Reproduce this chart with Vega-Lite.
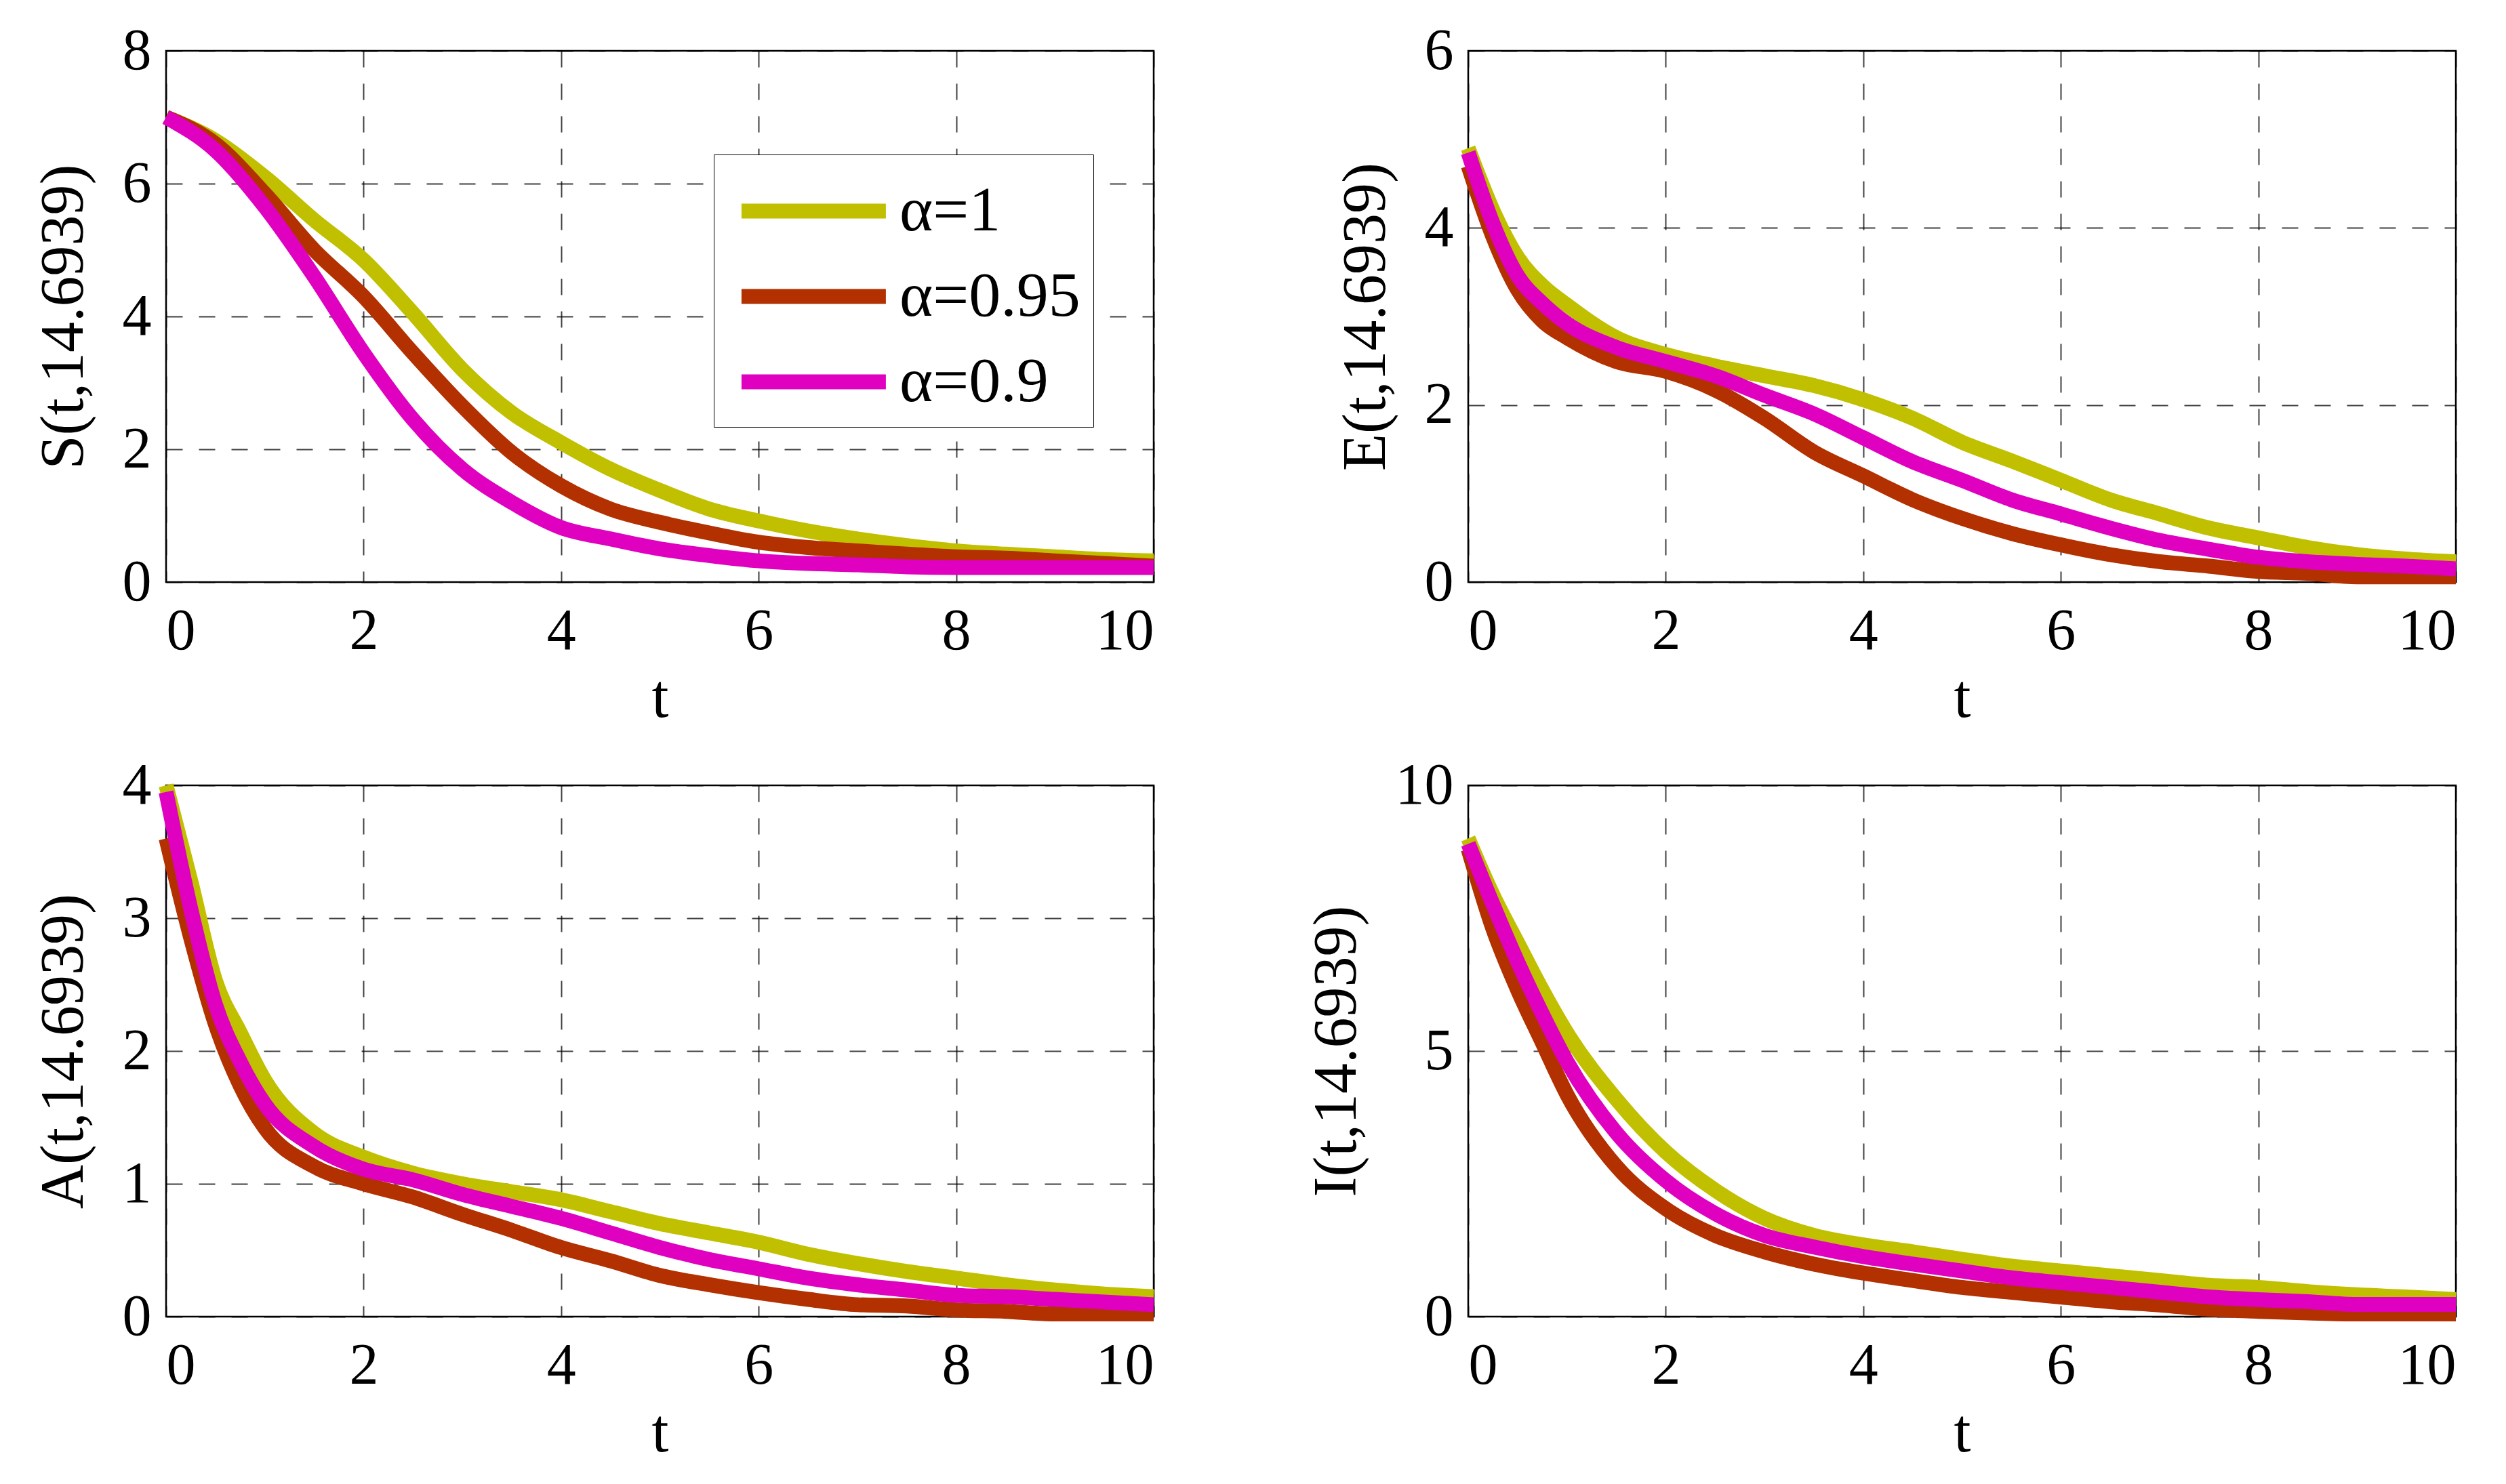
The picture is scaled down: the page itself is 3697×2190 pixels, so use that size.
{
  "$schema": "https://vega.github.io/schema/vega-lite/v6.json",
  "background": "white",
  "padding": {"left": 47, "top": 30, "right": 40, "bottom": 40},
  "config": {
    "font": "Liberation Serif",
    "view": {"stroke": "black", "strokeWidth": 2.5},
    "axis": {
      "labelFont": "Liberation Serif", "labelFontSize": 86, "labelColor": "black", "labelPadding": 22,
      "titleFont": "Liberation Serif", "titleFontSize": 90, "titleFontWeight": "normal", "titleColor": "black",
      "domain": false, "ticks": false,
      "grid": true, "gridColor": "black", "gridDash": [24, 24], "gridWidth": 2, "gridOpacity": 0.75
    },
    "axisX": {"labelPadding": 30, "titlePadding": 12},
    "axisY": {"titlePadding": 40},
    "line": {"strokeWidth": 22, "interpolate": "monotone"}
  },
  "datasets": {
    "curves": [
      {"p":"S","s":"α=1","t":0,"v":7.0},{"p":"S","s":"α=1","t":0.5,"v":6.65},{"p":"S","s":"α=1","t":1,"v":6.1},{"p":"S","s":"α=1","t":1.5,"v":5.45},
      {"p":"S","s":"α=1","t":2,"v":4.85},{"p":"S","s":"α=1","t":2.5,"v":4.05},{"p":"S","s":"α=1","t":3,"v":3.2},{"p":"S","s":"α=1","t":3.5,"v":2.55},
      {"p":"S","s":"α=1","t":4,"v":2.1},{"p":"S","s":"α=1","t":4.5,"v":1.7},{"p":"S","s":"α=1","t":5,"v":1.38},{"p":"S","s":"α=1","t":5.5,"v":1.1},
      {"p":"S","s":"α=1","t":6,"v":0.92},{"p":"S","s":"α=1","t":6.5,"v":0.77},{"p":"S","s":"α=1","t":7,"v":0.65},{"p":"S","s":"α=1","t":7.5,"v":0.55},
      {"p":"S","s":"α=1","t":8,"v":0.47},{"p":"S","s":"α=1","t":8.5,"v":0.42},{"p":"S","s":"α=1","t":9,"v":0.38},{"p":"S","s":"α=1","t":9.5,"v":0.34},
      {"p":"S","s":"α=1","t":10,"v":0.32},
      {"p":"S","s":"α=0.95","t":0,"v":7.0},{"p":"S","s":"α=0.95","t":0.5,"v":6.6},{"p":"S","s":"α=0.95","t":1,"v":5.85},{"p":"S","s":"α=0.95","t":1.5,"v":5.0},
      {"p":"S","s":"α=0.95","t":2,"v":4.3},{"p":"S","s":"α=0.95","t":2.5,"v":3.45},{"p":"S","s":"α=0.95","t":3,"v":2.65},{"p":"S","s":"α=0.95","t":3.5,"v":1.95},
      {"p":"S","s":"α=0.95","t":4,"v":1.45},{"p":"S","s":"α=0.95","t":4.5,"v":1.1},{"p":"S","s":"α=0.95","t":5,"v":0.9},{"p":"S","s":"α=0.95","t":5.5,"v":0.74},
      {"p":"S","s":"α=0.95","t":6,"v":0.6},{"p":"S","s":"α=0.95","t":6.5,"v":0.52},{"p":"S","s":"α=0.95","t":7,"v":0.47},{"p":"S","s":"α=0.95","t":7.5,"v":0.42},
      {"p":"S","s":"α=0.95","t":8,"v":0.38},{"p":"S","s":"α=0.95","t":8.5,"v":0.36},{"p":"S","s":"α=0.95","t":9,"v":0.32},{"p":"S","s":"α=0.95","t":9.5,"v":0.28},
      {"p":"S","s":"α=0.95","t":10,"v":0.24},
      {"p":"S","s":"α=0.9","t":0,"v":7.0},{"p":"S","s":"α=0.9","t":0.5,"v":6.5},{"p":"S","s":"α=0.9","t":1,"v":5.65},{"p":"S","s":"α=0.9","t":1.5,"v":4.6},
      {"p":"S","s":"α=0.9","t":2,"v":3.45},{"p":"S","s":"α=0.9","t":2.5,"v":2.45},{"p":"S","s":"α=0.9","t":3,"v":1.7},{"p":"S","s":"α=0.9","t":3.5,"v":1.2},
      {"p":"S","s":"α=0.9","t":4,"v":0.82},{"p":"S","s":"α=0.9","t":4.5,"v":0.65},{"p":"S","s":"α=0.9","t":5,"v":0.5},{"p":"S","s":"α=0.9","t":5.5,"v":0.4},
      {"p":"S","s":"α=0.9","t":6,"v":0.32},{"p":"S","s":"α=0.9","t":6.5,"v":0.28},{"p":"S","s":"α=0.9","t":7,"v":0.26},{"p":"S","s":"α=0.9","t":7.5,"v":0.23},
      {"p":"S","s":"α=0.9","t":8,"v":0.22},{"p":"S","s":"α=0.9","t":8.5,"v":0.22},{"p":"S","s":"α=0.9","t":9,"v":0.22},{"p":"S","s":"α=0.9","t":9.5,"v":0.22},
      {"p":"S","s":"α=0.9","t":10,"v":0.22},

      {"p":"E","s":"α=1","t":0,"v":4.9},{"p":"E","s":"α=1","t":0.25,"v":4.2},{"p":"E","s":"α=1","t":0.5,"v":3.67},{"p":"E","s":"α=1","t":0.75,"v":3.35},
      {"p":"E","s":"α=1","t":1,"v":3.13},{"p":"E","s":"α=1","t":1.5,"v":2.76},{"p":"E","s":"α=1","t":2,"v":2.57},{"p":"E","s":"α=1","t":2.5,"v":2.44},
      {"p":"E","s":"α=1","t":3,"v":2.33},{"p":"E","s":"α=1","t":3.5,"v":2.22},{"p":"E","s":"α=1","t":4,"v":2.06},{"p":"E","s":"α=1","t":4.5,"v":1.85},
      {"p":"E","s":"α=1","t":5,"v":1.58},{"p":"E","s":"α=1","t":5.5,"v":1.37},{"p":"E","s":"α=1","t":6,"v":1.15},{"p":"E","s":"α=1","t":6.5,"v":0.93},
      {"p":"E","s":"α=1","t":7,"v":0.77},{"p":"E","s":"α=1","t":7.5,"v":0.61},{"p":"E","s":"α=1","t":8,"v":0.5},{"p":"E","s":"α=1","t":8.5,"v":0.39},
      {"p":"E","s":"α=1","t":9,"v":0.31},{"p":"E","s":"α=1","t":9.5,"v":0.26},{"p":"E","s":"α=1","t":10,"v":0.23},
      {"p":"E","s":"α=0.95","t":0,"v":4.7},{"p":"E","s":"α=0.95","t":0.25,"v":3.9},{"p":"E","s":"α=0.95","t":0.5,"v":3.3},{"p":"E","s":"α=0.95","t":0.75,"v":2.95},
      {"p":"E","s":"α=0.95","t":1,"v":2.76},{"p":"E","s":"α=0.95","t":1.5,"v":2.49},{"p":"E","s":"α=0.95","t":2,"v":2.38},{"p":"E","s":"α=0.95","t":2.5,"v":2.17},
      {"p":"E","s":"α=0.95","t":3,"v":1.85},{"p":"E","s":"α=0.95","t":3.5,"v":1.47},{"p":"E","s":"α=0.95","t":4,"v":1.2},{"p":"E","s":"α=0.95","t":4.5,"v":0.93},
      {"p":"E","s":"α=0.95","t":5,"v":0.72},{"p":"E","s":"α=0.95","t":5.5,"v":0.55},{"p":"E","s":"α=0.95","t":6,"v":0.42},{"p":"E","s":"α=0.95","t":6.5,"v":0.31},
      {"p":"E","s":"α=0.95","t":7,"v":0.23},{"p":"E","s":"α=0.95","t":7.5,"v":0.18},{"p":"E","s":"α=0.95","t":8,"v":0.12},{"p":"E","s":"α=0.95","t":8.5,"v":0.1},
      {"p":"E","s":"α=0.95","t":9,"v":0.06},{"p":"E","s":"α=0.95","t":9.5,"v":0.06},{"p":"E","s":"α=0.95","t":10,"v":0.06},
      {"p":"E","s":"α=0.9","t":0,"v":4.85},{"p":"E","s":"α=0.9","t":0.25,"v":4.05},{"p":"E","s":"α=0.9","t":0.5,"v":3.46},{"p":"E","s":"α=0.9","t":0.75,"v":3.15},
      {"p":"E","s":"α=0.9","t":1,"v":2.92},{"p":"E","s":"α=0.9","t":1.5,"v":2.65},{"p":"E","s":"α=0.9","t":2,"v":2.49},{"p":"E","s":"α=0.9","t":2.5,"v":2.33},
      {"p":"E","s":"α=0.9","t":3,"v":2.11},{"p":"E","s":"α=0.9","t":3.5,"v":1.9},{"p":"E","s":"α=0.9","t":4,"v":1.63},{"p":"E","s":"α=0.9","t":4.5,"v":1.36},
      {"p":"E","s":"α=0.9","t":5,"v":1.15},{"p":"E","s":"α=0.9","t":5.5,"v":0.93},{"p":"E","s":"α=0.9","t":6,"v":0.77},{"p":"E","s":"α=0.9","t":6.5,"v":0.61},
      {"p":"E","s":"α=0.9","t":7,"v":0.47},{"p":"E","s":"α=0.9","t":7.5,"v":0.37},{"p":"E","s":"α=0.9","t":8,"v":0.28},{"p":"E","s":"α=0.9","t":8.5,"v":0.23},
      {"p":"E","s":"α=0.9","t":9,"v":0.2},{"p":"E","s":"α=0.9","t":9.5,"v":0.18},{"p":"E","s":"α=0.9","t":10,"v":0.15},

      {"p":"A","s":"α=1","t":0,"v":4.0},{"p":"A","s":"α=1","t":0.25,"v":3.28},{"p":"A","s":"α=1","t":0.5,"v":2.53},{"p":"A","s":"α=1","t":0.75,"v":2.14},
      {"p":"A","s":"α=1","t":1,"v":1.78},{"p":"A","s":"α=1","t":1.5,"v":1.38},{"p":"A","s":"α=1","t":2,"v":1.2},{"p":"A","s":"α=1","t":2.5,"v":1.08},
      {"p":"A","s":"α=1","t":3,"v":1.0},{"p":"A","s":"α=1","t":3.5,"v":0.94},{"p":"A","s":"α=1","t":4,"v":0.88},{"p":"A","s":"α=1","t":4.5,"v":0.79},
      {"p":"A","s":"α=1","t":5,"v":0.7},{"p":"A","s":"α=1","t":5.5,"v":0.63},{"p":"A","s":"α=1","t":6,"v":0.56},{"p":"A","s":"α=1","t":6.5,"v":0.47},
      {"p":"A","s":"α=1","t":7,"v":0.4},{"p":"A","s":"α=1","t":7.5,"v":0.34},{"p":"A","s":"α=1","t":8,"v":0.29},{"p":"A","s":"α=1","t":8.5,"v":0.24},
      {"p":"A","s":"α=1","t":9,"v":0.2},{"p":"A","s":"α=1","t":9.5,"v":0.17},{"p":"A","s":"α=1","t":10,"v":0.15},
      {"p":"A","s":"α=0.95","t":0,"v":3.6},{"p":"A","s":"α=0.95","t":0.25,"v":2.85},{"p":"A","s":"α=0.95","t":0.5,"v":2.2},{"p":"A","s":"α=0.95","t":0.75,"v":1.74},
      {"p":"A","s":"α=0.95","t":1,"v":1.42},{"p":"A","s":"α=0.95","t":1.5,"v":1.13},{"p":"A","s":"α=0.95","t":2,"v":1.0},{"p":"A","s":"α=0.95","t":2.5,"v":0.9},
      {"p":"A","s":"α=0.95","t":3,"v":0.77},{"p":"A","s":"α=0.95","t":3.5,"v":0.65},{"p":"A","s":"α=0.95","t":4,"v":0.52},{"p":"A","s":"α=0.95","t":4.5,"v":0.42},
      {"p":"A","s":"α=0.95","t":5,"v":0.31},{"p":"A","s":"α=0.95","t":5.5,"v":0.24},{"p":"A","s":"α=0.95","t":6,"v":0.18},{"p":"A","s":"α=0.95","t":6.5,"v":0.13},
      {"p":"A","s":"α=0.95","t":7,"v":0.09},{"p":"A","s":"α=0.95","t":7.5,"v":0.08},{"p":"A","s":"α=0.95","t":8,"v":0.05},{"p":"A","s":"α=0.95","t":8.5,"v":0.04},
      {"p":"A","s":"α=0.95","t":9,"v":0.02},{"p":"A","s":"α=0.95","t":9.5,"v":0.02},{"p":"A","s":"α=0.95","t":10,"v":0.02},
      {"p":"A","s":"α=0.9","t":0,"v":3.95},{"p":"A","s":"α=0.9","t":0.25,"v":3.07},{"p":"A","s":"α=0.9","t":0.5,"v":2.35},{"p":"A","s":"α=0.9","t":0.75,"v":1.92},
      {"p":"A","s":"α=0.9","t":1,"v":1.6},{"p":"A","s":"α=0.9","t":1.5,"v":1.28},{"p":"A","s":"α=0.9","t":2,"v":1.11},{"p":"A","s":"α=0.9","t":2.5,"v":1.03},
      {"p":"A","s":"α=0.9","t":3,"v":0.92},{"p":"A","s":"α=0.9","t":3.5,"v":0.83},{"p":"A","s":"α=0.9","t":4,"v":0.74},{"p":"A","s":"α=0.9","t":4.5,"v":0.63},
      {"p":"A","s":"α=0.9","t":5,"v":0.52},{"p":"A","s":"α=0.9","t":5.5,"v":0.43},{"p":"A","s":"α=0.9","t":6,"v":0.36},{"p":"A","s":"α=0.9","t":6.5,"v":0.29},
      {"p":"A","s":"α=0.9","t":7,"v":0.24},{"p":"A","s":"α=0.9","t":7.5,"v":0.2},{"p":"A","s":"α=0.9","t":8,"v":0.16},{"p":"A","s":"α=0.9","t":8.5,"v":0.15},
      {"p":"A","s":"α=0.9","t":9,"v":0.13},{"p":"A","s":"α=0.9","t":9.5,"v":0.11},{"p":"A","s":"α=0.9","t":10,"v":0.09},

      {"p":"I","s":"α=1","t":0,"v":9.0},{"p":"I","s":"α=1","t":0.25,"v":7.94},{"p":"I","s":"α=1","t":0.5,"v":7.04},{"p":"I","s":"α=1","t":0.75,"v":6.15},
      {"p":"I","s":"α=1","t":1,"v":5.34},{"p":"I","s":"α=1","t":1.5,"v":4.09},{"p":"I","s":"α=1","t":2,"v":3.1},{"p":"I","s":"α=1","t":2.5,"v":2.38},
      {"p":"I","s":"α=1","t":3,"v":1.85},{"p":"I","s":"α=1","t":3.5,"v":1.53},{"p":"I","s":"α=1","t":4,"v":1.35},{"p":"I","s":"α=1","t":4.5,"v":1.22},
      {"p":"I","s":"α=1","t":5,"v":1.08},{"p":"I","s":"α=1","t":5.5,"v":0.95},{"p":"I","s":"α=1","t":6,"v":0.86},{"p":"I","s":"α=1","t":6.5,"v":0.77},
      {"p":"I","s":"α=1","t":7,"v":0.68},{"p":"I","s":"α=1","t":7.5,"v":0.59},{"p":"I","s":"α=1","t":8,"v":0.55},{"p":"I","s":"α=1","t":8.5,"v":0.47},
      {"p":"I","s":"α=1","t":9,"v":0.41},{"p":"I","s":"α=1","t":9.5,"v":0.37},{"p":"I","s":"α=1","t":10,"v":0.32},
      {"p":"I","s":"α=0.95","t":0,"v":8.8},{"p":"I","s":"α=0.95","t":0.25,"v":7.3},{"p":"I","s":"α=0.95","t":0.5,"v":6.15},{"p":"I","s":"α=0.95","t":0.75,"v":5.16},
      {"p":"I","s":"α=0.95","t":1,"v":4.18},{"p":"I","s":"α=0.95","t":1.5,"v":2.83},{"p":"I","s":"α=0.95","t":2,"v":2.03},{"p":"I","s":"α=0.95","t":2.5,"v":1.53},
      {"p":"I","s":"α=0.95","t":3,"v":1.22},{"p":"I","s":"α=0.95","t":3.5,"v":0.99},{"p":"I","s":"α=0.95","t":4,"v":0.82},{"p":"I","s":"α=0.95","t":4.5,"v":0.68},
      {"p":"I","s":"α=0.95","t":5,"v":0.55},{"p":"I","s":"α=0.95","t":5.5,"v":0.46},{"p":"I","s":"α=0.95","t":6,"v":0.37},{"p":"I","s":"α=0.95","t":6.5,"v":0.28},
      {"p":"I","s":"α=0.95","t":7,"v":0.22},{"p":"I","s":"α=0.95","t":7.5,"v":0.14},{"p":"I","s":"α=0.95","t":8,"v":0.1},{"p":"I","s":"α=0.95","t":8.5,"v":0.07},
      {"p":"I","s":"α=0.95","t":9,"v":0.05},{"p":"I","s":"α=0.95","t":9.5,"v":0.05},{"p":"I","s":"α=0.95","t":10,"v":0.05},
      {"p":"I","s":"α=0.9","t":0,"v":8.9},{"p":"I","s":"α=0.9","t":0.25,"v":7.76},{"p":"I","s":"α=0.9","t":0.5,"v":6.68},{"p":"I","s":"α=0.9","t":0.75,"v":5.7},
      {"p":"I","s":"α=0.9","t":1,"v":4.8},{"p":"I","s":"α=0.9","t":1.5,"v":3.46},{"p":"I","s":"α=0.9","t":2,"v":2.56},{"p":"I","s":"α=0.9","t":2.5,"v":1.94},
      {"p":"I","s":"α=0.9","t":3,"v":1.53},{"p":"I","s":"α=0.9","t":3.5,"v":1.31},{"p":"I","s":"α=0.9","t":4,"v":1.13},{"p":"I","s":"α=0.9","t":4.5,"v":0.99},
      {"p":"I","s":"α=0.9","t":5,"v":0.86},{"p":"I","s":"α=0.9","t":5.5,"v":0.73},{"p":"I","s":"α=0.9","t":6,"v":0.64},{"p":"I","s":"α=0.9","t":6.5,"v":0.55},
      {"p":"I","s":"α=0.9","t":7,"v":0.46},{"p":"I","s":"α=0.9","t":7.5,"v":0.37},{"p":"I","s":"α=0.9","t":8,"v":0.32},{"p":"I","s":"α=0.9","t":8.5,"v":0.28},
      {"p":"I","s":"α=0.9","t":9,"v":0.23},{"p":"I","s":"α=0.9","t":9.5,"v":0.23},{"p":"I","s":"α=0.9","t":10,"v":0.23}
    ]
  },
  "columns": 2,
  "spacing": {"row": 300, "column": 464},
  "bounds": "flush",
  "resolve": {"scale": {"color": "independent"}, "legend": {"color": "independent"}},
  "concat": [
    {
      "width": 1457, "height": 784,
      "data": {"name": "curves"},
      "transform": [{"filter": "datum.p == 'S'"}],
      "mark": {"type": "line", "strokeWidth": 22},
      "encoding": {
        "x": {"field": "t", "type": "quantitative", "scale": {"domain": [0, 10], "nice": false}, "axis": {"title": "t", "values": [0, 2, 4, 6, 8, 10]}},
        "y": {"field": "v", "type": "quantitative", "scale": {"domain": [0, 8], "nice": false}, "axis": {"title": "S(t,14.6939)", "values": [0, 2, 4, 6, 8]}},
        "color": {
          "field": "s", "type": "nominal",
          "scale": {"domain": ["α=1", "α=0.95", "α=0.9"], "range": ["#C0C000", "#B33000", "#E000C0"]},
          "legend": {
            "title": null, "orient": "none", "legendX": 808, "legendY": 153,
            "symbolType": "M-0.8,0H3.2", "symbolStrokeWidth": 24, "symbolSize": 11342,
            "labelFont": "Liberation Serif", "labelFontSize": 94, "labelColor": "black", "labelLimit": 500, "labelOffset": 126,
            "labelExpr": "datum.label + '  '",
            "strokeColor": "black", "fillColor": "white", "padding": 19, "rowPadding": 14
          }
        }
      }
    },
    {
      "width": 1457, "height": 784,
      "data": {"name": "curves"},
      "transform": [{"filter": "datum.p == 'E'"}],
      "mark": {"type": "line", "strokeWidth": 22},
      "encoding": {
        "x": {"field": "t", "type": "quantitative", "scale": {"domain": [0, 10], "nice": false}, "axis": {"title": "t", "values": [0, 2, 4, 6, 8, 10]}},
        "y": {"field": "v", "type": "quantitative", "scale": {"domain": [0, 6], "nice": false}, "axis": {"title": "E(t,14.6939)", "values": [0, 2, 4, 6]}},
        "color": {
          "field": "s", "type": "nominal",
          "scale": {"domain": ["α=1", "α=0.95", "α=0.9"], "range": ["#C0C000", "#B33000", "#E000C0"]},
          "legend": null
        }
      }
    },
    {
      "width": 1457, "height": 784,
      "data": {"name": "curves"},
      "transform": [{"filter": "datum.p == 'A'"}],
      "mark": {"type": "line", "strokeWidth": 22},
      "encoding": {
        "x": {"field": "t", "type": "quantitative", "scale": {"domain": [0, 10], "nice": false}, "axis": {"title": "t", "values": [0, 2, 4, 6, 8, 10]}},
        "y": {"field": "v", "type": "quantitative", "scale": {"domain": [0, 4], "nice": false}, "axis": {"title": "A(t,14.6939)", "values": [0, 1, 2, 3, 4]}},
        "color": {
          "field": "s", "type": "nominal",
          "scale": {"domain": ["α=1", "α=0.95", "α=0.9"], "range": ["#C0C000", "#B33000", "#E000C0"]},
          "legend": null
        }
      }
    },
    {
      "width": 1457, "height": 784,
      "data": {"name": "curves"},
      "transform": [{"filter": "datum.p == 'I'"}],
      "mark": {"type": "line", "strokeWidth": 22},
      "encoding": {
        "x": {"field": "t", "type": "quantitative", "scale": {"domain": [0, 10], "nice": false}, "axis": {"title": "t", "values": [0, 2, 4, 6, 8, 10]}},
        "y": {"field": "v", "type": "quantitative", "scale": {"domain": [0, 10], "nice": false}, "axis": {"title": "I(t,14.6939)", "values": [0, 5, 10]}},
        "color": {
          "field": "s", "type": "nominal",
          "scale": {"domain": ["α=1", "α=0.95", "α=0.9"], "range": ["#C0C000", "#B33000", "#E000C0"]},
          "legend": null
        }
      }
    }
  ]
}
